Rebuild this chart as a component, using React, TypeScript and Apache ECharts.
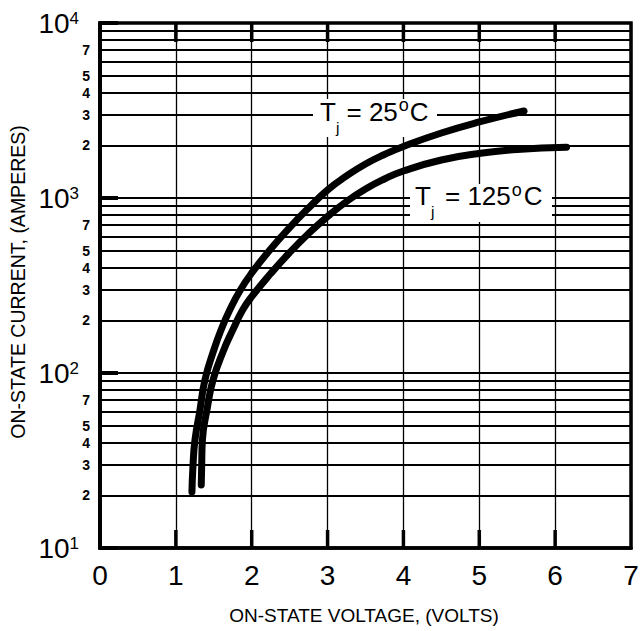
import React, { useEffect, useRef } from 'react';
import * as echarts from 'echarts';

// ---- data ----
const X_TICKS = [0, 1, 2, 3, 4, 5, 6, 7];
const DECADES = [10, 100, 1000];
const MINOR_MULTIPLIERS = [2, 3, 4, 5, 6, 7, 8, 9];
const LABELED_MULTIPLIERS = [2, 3, 4, 5, 7];
const Y_MIN = 10;
const Y_MAX = 10000;

// Tj = 25 degC curve (volts, amperes)
const V_25C = [1.212, 1.225, 1.252, 1.318, 1.383, 1.5, 1.6, 1.71, 1.85, 2.0, 2.25, 2.5, 2.75, 3.0, 3.25, 3.5, 3.75, 4.0, 4.5, 5.0, 5.59];
const I_25C = [20.9, 29.0, 41.4, 61.5, 91.2, 135, 178, 229, 298, 373, 511, 678, 877, 1111, 1336, 1564, 1773, 1970, 2351, 2719, 3142];
// Tj = 125 degC curve (volts, amperes)
const V_125C = [1.335, 1.34, 1.35, 1.41, 1.49, 1.63, 1.75, 1.88, 2.0, 2.25, 2.5, 2.75, 3.0, 3.25, 3.5, 3.75, 4.0, 4.5, 5.0, 5.5, 6.15];
const I_125C = [22.9, 29.0, 41.4, 61.5, 91.2, 135, 176, 229, 273, 370, 488, 627, 784, 955, 1126, 1284, 1427, 1649, 1796, 1893, 1949];

const LABEL_25 = '25';
const LABEL_125 = '125';
const X_TITLE = 'ON-STATE VOLTAGE, (VOLTS)';
const Y_TITLE = 'ON-STATE CURRENT, (AMPERES)';

const FONT = '"Liberation Sans", Arial, Helvetica, sans-serif';

function txt(text: string, x: number, baseline: number, size: number, z = 3) {
  return {
    type: 'text',
    x,
    y: baseline - 0.3465 * size,
    z,
    style: { text, fontSize: size, fontFamily: FONT, fill: '#000000', align: 'left', verticalAlign: 'middle' },
  };
}

function tjLabel(x0: number, baseline: number, num: string, rect: number[], gapEq: number, gapDeg: number) {
  const big = 26;
  const numWidth = num.length * 0.556 * big;
  const eqX = x0 + gapEq;
  const numX = eqX + (0.584 + 0.278) * big;
  const degX = numX + numWidth + 1;
  const cX = degX + gapDeg;
  return [
    { type: 'rect', z: 2, shape: { x: rect[0], y: rect[1], width: rect[2], height: rect[3] }, style: { fill: '#fff' } },
    txt('T', x0, baseline, big),
    txt('j', x0 + 16, baseline + 11.7, 15.5),
    txt('= ' + num, eqX, baseline, big),
    txt('o', degX, baseline - 9.2, 18),
    txt('C', cX, baseline, big),
  ];
}

export default function App() {
  const ref = useRef<HTMLDivElement>(null);

  useEffect(() => {
    if (!ref.current) return;
    const chart = echarts.init(ref.current, undefined, { renderer: 'svg' });

    const minorLines: any[] = [];
    DECADES.forEach((d) => {
      MINOR_MULTIPLIERS.forEach((m) => {
        const labeled = LABELED_MULTIPLIERS.includes(m);
        minorLines.push({
          yAxis: d * m,
          label: {
            show: labeled,
            formatter: String(m),
            position: 'start',
            distance: 10,
            fontSize: 14,
            fontWeight: 'bold',
            fontFamily: FONT,
            color: '#000',
          },
        });
      });
    });

    const option: any = {
      animation: false,
      backgroundColor: '#fff',
      grid: {
        left: 100,
        right: 9,
        top: 23,
        bottom: 83,
        show: true,
        borderColor: '#000',
        borderWidth: 3.5,
        containLabel: false,
        outerBoundsMode: 'none',
      },
      xAxis: {
        type: 'value',
        min: X_TICKS[0],
        max: X_TICKS[X_TICKS.length - 1],
        interval: 1,
        axisLine: { show: true, onZero: false, lineStyle: { color: '#000', width: 3.5 } },
        axisTick: { show: false },
        axisLabel: { fontSize: 28, color: '#000', margin: 13, fontFamily: FONT },
        splitLine: { show: true, lineStyle: { color: '#000', width: 1.3 } },
      },
      yAxis: {
        type: 'log',
        logBase: 10,
        min: Y_MIN,
        max: Y_MAX,
        axisLine: { show: true, lineStyle: { color: '#000', width: 4 } },
        axisTick: { show: true, inside: true, length: 18, lineStyle: { color: '#000', width: 4 } },
        axisLabel: {
          margin: 21,
          color: '#000',
          formatter: (v: number) => `{b|10}{s|${Math.round(Math.log10(v))}}`,
          rich: {
            b: { fontSize: 28, fontFamily: FONT, color: '#000', lineHeight: 26 },
            s: { fontSize: 17, fontFamily: FONT, color: '#000', lineHeight: 14, verticalAlign: 'top' },
          },
        },
        splitLine: { show: true, lineStyle: { color: '#000', width: 1.8 } },
      },
      series: [
        {
          name: 'grid',
          type: 'line',
          data: [],
          silent: true,
          markLine: {
            z: 1,
            silent: true,
            symbol: ['none', 'none'],
            animation: false,
            lineStyle: { color: '#000', width: 1.8, type: 'solid' },
            emphasis: { disabled: true },
            data: minorLines,
          },
        },
        {
          name: 'ticks',
          type: 'custom',
          silent: true,
          clip: false,
          z: 3,
          encode: { x: 0, y: 1 },
          data: X_TICKS.slice(1, -1).map((v) => [v, Y_MIN]),
          renderItem: (params: any, api: any) => {
            const v = api.value(0);
            const b = api.coord([v, Y_MIN]);
            const t = api.coord([v, Y_MAX]);
            const st = { stroke: '#000', lineWidth: 3.5, fill: 'none' };
            return {
              type: 'group',
              children: [
                { type: 'line', shape: { x1: b[0], y1: b[1], x2: b[0], y2: b[1] - 18 }, style: st },
                { type: 'line', shape: { x1: t[0], y1: t[1], x2: t[0], y2: t[1] + 19 }, style: st },
              ],
            };
          },
        },
        {
          name: 'Tj = 25°C',
          type: 'line',
          z: 4,
          smooth: 0.5,
          showSymbol: false,
          symbol: 'none',
          lineStyle: { color: '#000', width: 7, cap: 'round', join: 'round' },
          data: V_25C.map((v, i) => [v, I_25C[i]]),
        },
        {
          name: 'Tj = 125°C',
          type: 'line',
          z: 4,
          smooth: 0.5,
          showSymbol: false,
          symbol: 'none',
          lineStyle: { color: '#000', width: 7, cap: 'round', join: 'round' },
          data: V_125C.map((v, i) => [v, I_125C[i]]),
        },
      ],
      graphic: {
        elements: [
          ...tjLabel(320, 120.7, LABEL_25, [313, 99, 124, 38], 26.5, 11),
          ...tjLabel(415, 205, LABEL_125, [410, 184, 142, 38], 30, 12),
          {
            type: 'text',
            x: 364,
            y: 615,
            style: { text: X_TITLE, fontSize: 19, fontFamily: FONT, fill: '#000', align: 'center', verticalAlign: 'middle' },
          },
          {
            type: 'text',
            x: 18,
            y: 282,
            rotation: Math.PI / 2,
            style: { text: Y_TITLE, fontSize: 19.5, fontFamily: FONT, fill: '#000', align: 'center', verticalAlign: 'middle' },
          },
        ],
      },
    };

    chart.setOption(option);
    return () => chart.dispose();
  }, []);

  return (
    <div
      ref={ref}
      style={{ position: 'fixed', left: 0, top: 0, width: 640, height: 631, background: '#fff' }}
    />
  );
}
